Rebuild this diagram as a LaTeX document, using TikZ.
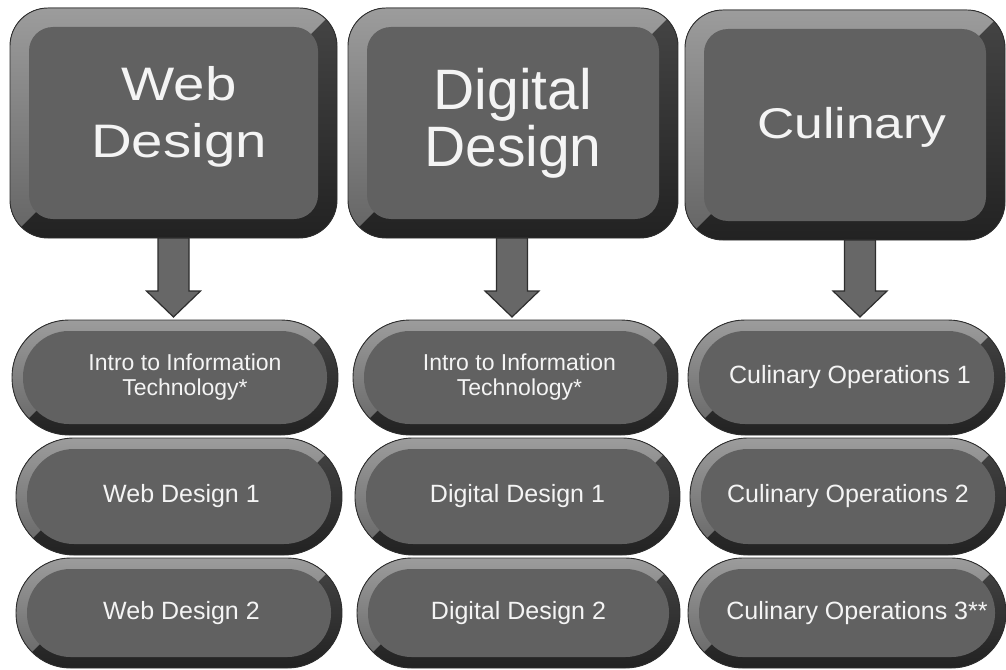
\documentclass[tikz,border=0pt]{standalone}
\usepackage{fontspec}
\setmainfont{Liberation Sans}
\newfontfamily\widefont[FakeStretch=1.2]{Liberation Sans}
\usetikzlibrary{calc}
\pgfdeclarelayer{background}
\pgfsetlayers{background,main}
\definecolor{face}{HTML}{616161}
\definecolor{bevlight}{HTML}{9C9C9C}
\definecolor{bevlighttwo}{HTML}{646464}
\definecolor{bevdark}{HTML}{454545}
\definecolor{bevdarktwo}{HTML}{222222}
\definecolor{edgecol}{HTML}{2E2E2E}
\definecolor{txt}{HTML}{F4F4F4}
\definecolor{arrowcol}{HTML}{676767}
% bevel drawn around a named node: #1 node, #2 outer radius, #3 inset, #4 inner radius
\newcommand\bevelbox[4]{%
  \begin{scope}
    \clip[rounded corners=#2] (#1.north west) rectangle (#1.south east);
    \fill[top color=bevdark, bottom color=bevdarktwo] (#1.north west) rectangle (#1.south east);
    \fill[top color=bevlight, bottom color=bevlighttwo] (#1.north west) -- (#1.north east)
      -- ($(#1.north east)+(-80,80)$) -- ($(#1.south west)+(80,-80)$) -- (#1.south west) -- cycle;
  \end{scope}
  \draw[edgecol, line width=0.9pt, rounded corners=#2] (#1.north west) rectangle (#1.south east);
  \fill[face, rounded corners=#4] ($(#1.north west)+(#3,#3)$) rectangle ($(#1.south east)+(-#3,-#3)$);
}
% block arrow from a box to a pill, #3 = x offset
\newcommand\blockarrow[3]{%
  \draw[blockarr] let \p1=($(#1.south)+(#3,0)$), \p2=(#2.north) in
    (\x1-15.5pt,\y1) -- (\x1+15.5pt,\y1) -- (\x1+15.5pt,\y2+29pt) -- (\x1+27pt,\y2+29pt)
    -- (\x1,\y2+3pt) -- (\x1-27pt,\y2+29pt) -- (\x1-15.5pt,\y2+29pt) -- cycle;
}
\begin{document}
\begin{tikzpicture}[x=1pt,y=-1pt,
  boxarea/.style={inner sep=0pt, outer sep=0pt, minimum height=230pt},
  titletext/.style={inner sep=0pt, align=center, text=txt},
  pill/.style={inner sep=0pt, outer sep=0pt, align=center, text=txt,
    font=\fontsize{25}{25}\selectfont},
  blockarr/.style={fill=arrowcol, draw=edgecol, line width=1.2pt, line join=miter}]
\useasboundingbox (0,0) rectangle (1006,669);

% top boxes
\node[boxarea, minimum width=327pt] (wt) at (173.5,123) {};
\node[boxarea, minimum width=330pt] (dt) at (513,123) {};
\node[boxarea, minimum width=320pt] (ct) at (845,125) {};

% titles
\node[titletext, font=\widefont\fontsize{47}{57}\selectfont] (wtl) at (179,116.5) {Web\\Design};
\node[titletext, font=\fontsize{57}{57}\selectfont] (dtl) at (513,123.5) {Digital\\Design};
\node[titletext, font=\widefont\fontsize{43}{43}\selectfont] (ctl) at (852,127) {Culinary};

% pills
\node[pill, minimum width=326pt, minimum height=115pt, font=\fontsize{23}{25}\selectfont] (w1) at (175,377.5)
  {\hspace*{20pt}Intro to Information\\\hspace*{20pt}Technology*};
\node[pill, minimum width=326pt, minimum height=117pt] (w2) at (179,496.5) {\hspace*{5pt}Web Design 1};
\node[pill, minimum width=326pt, minimum height=110pt] (w3) at (179,613) {\hspace*{5pt}Web Design 2};

\node[pill, minimum width=325pt, minimum height=115pt, font=\fontsize{23}{25}\selectfont] (d1) at (515.5,377.5)
  {\hspace*{8pt}Intro to Information\\\hspace*{8pt}Technology*};
\node[pill, minimum width=325pt, minimum height=117pt] (d2) at (517.5,496.5) {Digital Design 1};
\node[pill, minimum width=323pt, minimum height=110pt] (d3) at (518.5,613) {Digital Design 2};

\node[pill, minimum width=317pt, minimum height=115pt] (c1) at (846.5,377.5) {\hspace*{7pt}Culinary Operations 1};
\node[pill, minimum width=316pt, minimum height=117pt] (c2) at (848,496.5) {Culinary Operations 2};
\node[pill, minimum width=318pt, minimum height=110pt] (c3) at (847,613) {\hspace*{20pt}Culinary Operations 3**};

\begin{pgfonlayer}{background}
  \fill[white] (0,0) rectangle (1006,669);
  \bevelbox{wt}{38pt}{19}{24pt}
  \bevelbox{dt}{38pt}{19}{24pt}
  \bevelbox{ct}{38pt}{19}{24pt}
  \bevelbox{w1}{57pt}{11}{46pt}
  \bevelbox{w2}{58pt}{11}{47pt}
  \bevelbox{w3}{54.5pt}{11}{43.5pt}
  \bevelbox{d1}{57pt}{11}{46pt}
  \bevelbox{d2}{58pt}{11}{47pt}
  \bevelbox{d3}{54.5pt}{11}{43.5pt}
  \bevelbox{c1}{57pt}{11}{46pt}
  \bevelbox{c2}{58pt}{11}{47pt}
  \bevelbox{c3}{54.5pt}{11}{43.5pt}
\end{pgfonlayer}

% arrows
\blockarrow{wt}{w1}{0}
\blockarrow{dt}{d1}{-1}
\blockarrow{ct}{c1}{15}
\end{tikzpicture}
\end{document}
